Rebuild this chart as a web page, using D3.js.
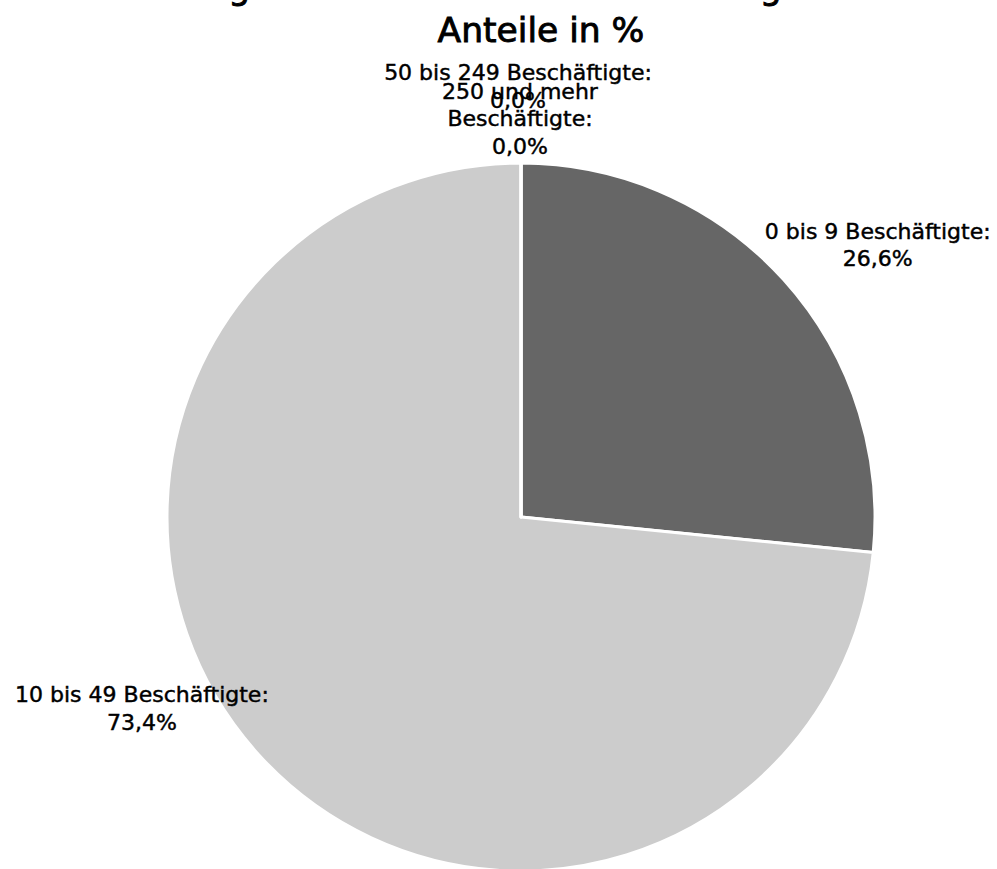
<!DOCTYPE html>
<html><head><meta charset="utf-8">
<script src="https://cdn.jsdelivr.net/npm/d3@7"></script>
<style>body{margin:0;background:#fff}svg{display:block}</style>
</head><body>
<script>
const categories = ["0 bis 9 Beschäftigte:", "10 bis 49 Beschäftigte:", "50 bis 249 Beschäftigte:", "250 und mehr Beschäftigte:"];
const values = [26.6, 73.4, 0.0, 0.0];
const valueLabels = ["26,6%", "73,4%", "0,0%", "0,0%"];
const colors = ["#666666", "#cccccc", "#999999", "#333333"];
const titleLines = ["Verteilung aller Betriebe nach Beschäftigtenzahl 2020", "Anteile in %"];

const W = 997, H = 869;
const svg = d3.select("body").append("svg").attr("width", W).attr("height", H);
const font = "DejaVu Sans";

const t = svg.append("text").attr("text-anchor", "middle").attr("font-family", font)
  .attr("font-size", 34.5).attr("fill", "#000").attr("stroke", "#000").attr("stroke-width", 0.9);
titleLines.forEach((l, i) => t.append("tspan").attr("x", 541).attr("y", -1 + i * 43).text(l));

const cx = 521, cy = 517, r = 354;
const pie = d3.pie().sort(null).value(d => d.v);
const data = categories.map((c, i) => ({c, v: values[i], lab: valueLabels[i], col: colors[i]}));
const arcs = pie(data);
const arc = d3.arc().innerRadius(0).outerRadius(r);
const g = svg.append("g").attr("transform", `translate(${cx},${cy})`);
g.selectAll("path").data(arcs).join("path").attr("d", arc)
  .attr("fill", d => d.data.col).attr("stroke", "#fff").attr("stroke-width", 3).attr("stroke-linejoin", "round");

const fs = 22, lh = 27.5;
function lines(d) {
  const c = d.data.c;
  if (c.startsWith("250")) return ["250 und mehr", "Beschäftigte:", d.data.lab];
  return [c, d.data.lab];
}
// label placement: outside end along the slice's mid angle, then Excel-like best-fit adjustments
const nudge = [[0, 0], [-12, -67], [-3, -28], [-1, 18]];
const gap = 14;
arcs.forEach((d, i) => {
  const a = (d.startAngle + d.endAngle) / 2;
  const dx = Math.sin(a), dy = -Math.cos(a);
  const ls = lines(d);
  const txt = g.append("text").attr("text-anchor", "middle").attr("font-family", font)
    .attr("font-size", fs).attr("fill", "#000").attr("stroke", "#000").attr("stroke-width", 0.45);
  ls.forEach((l, j) => txt.append("tspan").attr("x", 0).attr("dy", j ? lh : 0).text(l));
  const bb = txt.node().getBBox();
  const w = bb.width, h = ls.length * lh;
  let x = dx * (r + gap) + dx * w / 2 + nudge[i][0];
  let y = dy * (r + gap) + dy * h / 2 + nudge[i][1];
  txt.attr("transform", `translate(${x},${y - h / 2 + lh / 2 + 0.35 * fs - 7})`);
});
</script>
</body></html>
